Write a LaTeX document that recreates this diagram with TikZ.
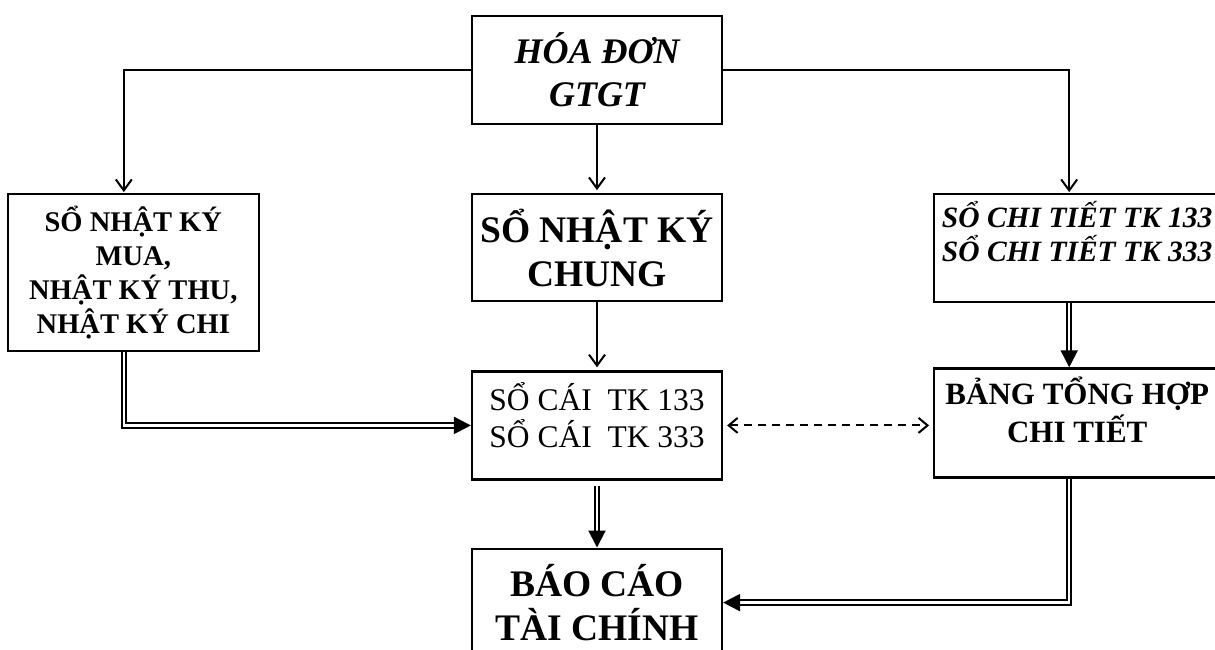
\documentclass[tikz,border=0pt]{standalone}
\usepackage{fontspec}
\setmainfont{Liberation Serif}
\usetikzlibrary{positioning,arrows.meta,calc}
\tikzset{
  box/.style={rectangle,draw=black,line width=2.2pt,fill=white,
    minimum width=250pt,minimum height=108pt,align=center,inner sep=4pt},
  lgtxt/.style={font=\fontsize{37.5}{44}\selectfont\bfseries},
  lgit/.style={font=\fontsize{36}{43}\selectfont\bfseries\itshape},
  mdtxt/.style={font=\fontsize{28.5}{34}\selectfont\bfseries},
  mdit/.style={font=\fontsize{29.5}{34}\selectfont\bfseries\itshape},
  rmtxt/.style={font=\fontsize{31.5}{37}\selectfont},
  arr/.style={-{Straight Barb[length=11pt,width=16pt]},line width=2pt},
  dbl/.style={-{Triangle[length=17pt,width=17pt]},double,double distance=2.4pt,line width=2pt},
  dasharr/.style={{Straight Barb[length=9pt,width=15pt]}-{Straight Barb[length=9pt,width=15pt]},
    line width=2pt,dash pattern=on 8pt off 6pt},
}

\begin{document}
\begin{tikzpicture}[x=1pt,y=1pt]
  \useasboundingbox[fill=white] (0,0) rectangle (1215,-649);

  % centre column
  \node[box,lgit] (hoadon) at (597,-70) {HÓA ĐƠN\\GTGT};
  \node[box,lgtxt,minimum height=107pt,below=68pt of hoadon] (nkchung) {SỔ NHẬT KÝ\\CHUNG};
  \node[box,rmtxt,below=68pt of nkchung] (socai)
    {SỔ CÁI\ \ TK 133\\SỔ CÁI\ \ TK 333\\[-17pt]\mbox{}};
  \node[box,lgtxt,below=67pt of socai] (baocao) {BÁO CÁO\\TÀI CHÍNH};

  % side columns
  \node[box,mdtxt,minimum width=251pt,minimum height=157pt,
    left=211pt of nkchung.north west,anchor=north east] (nkmua)
    {SỔ NHẬT KÝ\\MUA,\\NHẬT KÝ THU,\\NHẬT KÝ CHI};
  \node[box,mdit,minimum width=286pt,
    right=210pt of nkchung.north east,anchor=north west] (ctiet)
    {SỔ CHI TIẾT TK 133\\SỔ CHI TIẾT TK 333\\\mbox{}};
  \node[box,font=\fontsize{31}{38}\selectfont\bfseries,minimum width=286pt,minimum height=109pt,
    below=64pt of ctiet] (bangth) {BẢNG TỔNG HỢP\\CHI TIẾT\\[-12pt]\mbox{}};

  % single arrows
  \draw[arr,shorten >=3pt] (hoadon) -- (nkchung);
  \draw[arr,shorten >=3pt] (nkchung) -- (socai);
  \draw[arr,shorten >=1pt] (hoadon.west) -| ([xshift=-9.5pt]nkmua.north);
  \draw[arr,shorten >=1pt] (hoadon.east) -| ([xshift=-8pt]ctiet.north);

  % double arrows
  \draw[dbl] ([xshift=-8pt]ctiet.south) -- ([xshift=-8pt]bangth.north);
  \draw[dbl] ([xshift=-9.5pt]nkmua.south) |- (socai.west);
  \draw[dbl] ([xshift=-8pt]bangth.south) |- (baocao.east);
  \draw[dbl,shorten <=5pt] (socai) -- (baocao);

  % dashed link
  \draw[dasharr,shorten <=4pt,shorten >=4pt] (socai.east) -- (socai.east -| bangth.west);
\end{tikzpicture}
\end{document}
